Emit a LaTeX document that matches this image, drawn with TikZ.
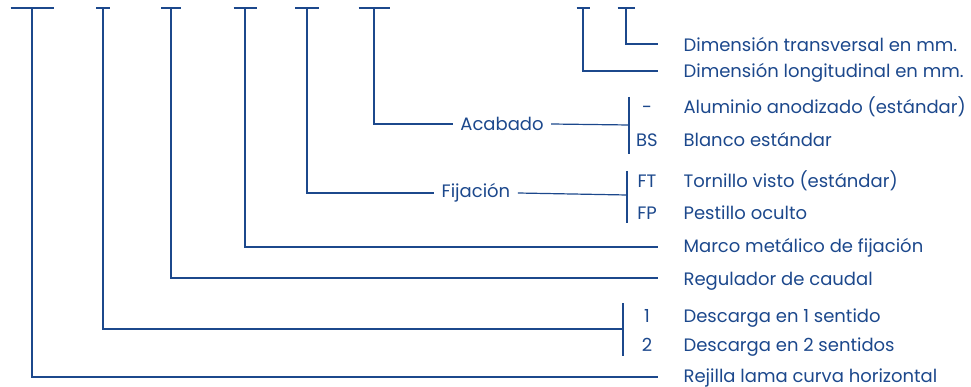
\documentclass[tikz,border=0pt]{standalone}
\usepackage{fontspec}
\setmainfont{Poppins}
\usepackage{tikz}
\usetikzlibrary{positioning,calc}

\definecolor{codeblue}{RGB}{28,72,140}

\begin{document}
\begin{tikzpicture}[x=1pt, y=-1pt, line width=1.2pt,
    txt/.style={text=codeblue, font=\fontsize{18}{21}\selectfont, inner sep=0pt},
    lbl/.style={txt, anchor=base west},
    code/.style={txt, anchor=base}]
    \useasboundingbox (0,0) rectangle (971,387);

    % Top bars, one per field
    \foreach \x/\w/\n in {32/43/1, 103/14/2, 171/20/3, 245/23/4, 307/24/5, 374/31/6, 583/13/7, 626/17/8} {
        \coordinate (t\n) at (\x,8);
        \draw[codeblue] (\x-\w/2,8) -- (\x+\w/2,8);
    }

    % Dimensions
    \node[lbl] (dimT) at (683,52) {Dimensión transversal en mm.};
    \node[lbl] (dimL) at (683,78) {Dimensión longitudinal en mm.};
    \coordinate (e8) at (658,44);
    \coordinate (e7) at (658,71);
    \draw[codeblue] (t8) |- (e8);
    \draw[codeblue] (t7) |- (e7);

    % Acabado
    \node[txt, inner xsep=7pt] (acabado) at (502,124) {Acabado};
    \coordinate (b6) at (629,125);
    \draw[codeblue] (t6) |- (acabado.west);
    \draw[codeblue] (acabado.east) -- (b6);
    \draw[codeblue] (629,97) -- (629,154);
    \node[code] (cAl) at (647,114) {-};
    \node[code] (cBS) at (647,147) {BS};
    \node[lbl] (alu) at (683,114) {Aluminio anodizado (estándar)};
    \node[lbl] (bla) at (683,147) {Blanco estándar};

    % Fijacion
    \node[txt, inner xsep=7pt] (fijacion) at (476,193) {Fijación};
    \coordinate (b5) at (627,195);
    \draw[codeblue] (t5) |- (fijacion.west);
    \draw[codeblue] (fijacion.east) -- (b5);
    \draw[codeblue] (627,171) -- (627,223);
    \node[code] (cFT) at (647,188) {FT};
    \node[code] (cFP) at (647,220) {FP};
    \node[lbl] (tor) at (683,188) {Tornillo visto (estándar)};
    \node[lbl] (pes) at (683,220) {Pestillo oculto};

    % Marco y regulador
    \node[lbl] (marco) at (683,253) {Marco metálico de fijación};
    \node[lbl] (regul) at (683,285) {Regulador de caudal};
    \coordinate (e4) at (658,247);
    \coordinate (e3) at (658,278);
    \draw[codeblue] (t4) |- (e4);
    \draw[codeblue] (t3) |- (e3);

    % Descarga
    \coordinate (b2) at (623,329);
    \draw[codeblue] (t2) |- (b2);
    \draw[codeblue] (623,303) -- (623,356);
    \node[code] (c1) at (647,322) {1};
    \node[code] (c2) at (647,351) {2};
    \node[lbl] (des1) at (683,322) {Descarga en 1 sentido};
    \node[lbl] (des2) at (683,351) {Descarga en 2 sentidos};

    % Rejilla
    \node[lbl] (rej) at (683,382) {Rejilla lama curva horizontal};
    \coordinate (e1) at (658,377);
    \draw[codeblue] (t1) |- (e1);
\end{tikzpicture}
\end{document}
